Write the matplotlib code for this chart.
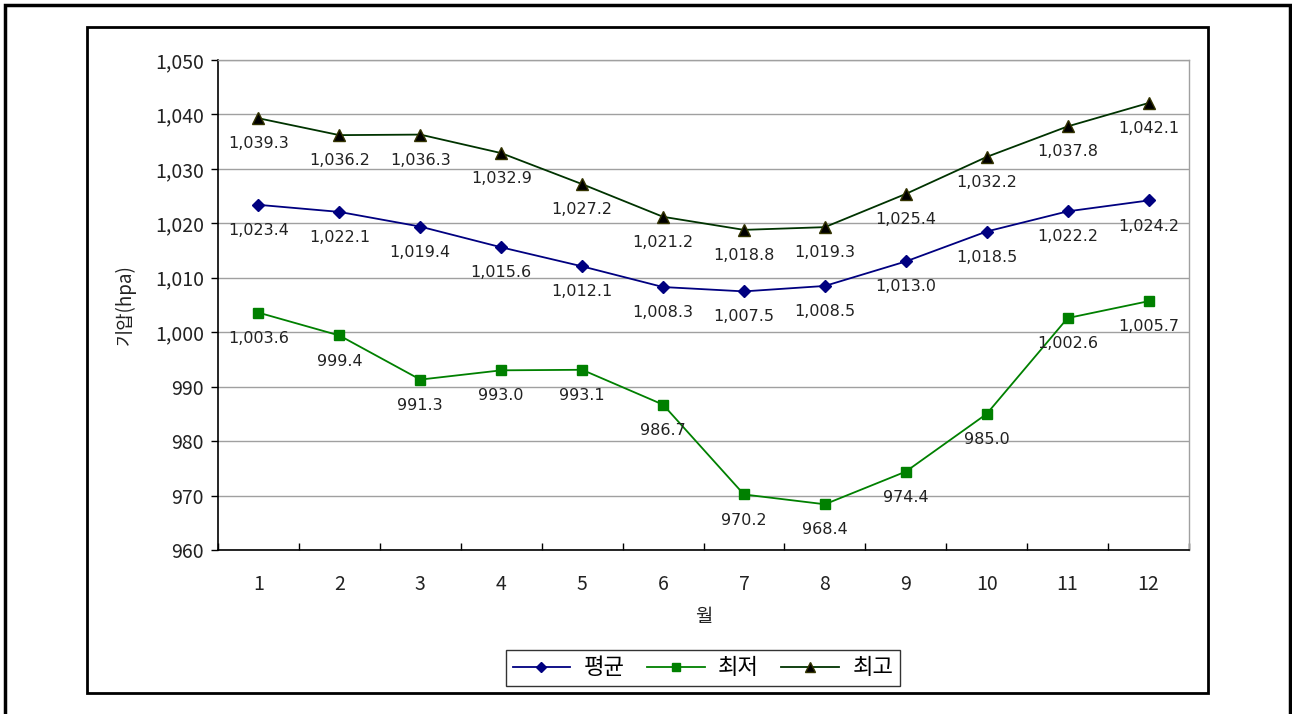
import matplotlib.pyplot as plt
from matplotlib.patches import Rectangle
from matplotlib.ticker import FuncFormatter, MultipleLocator
import numpy as np

plt.rcParams['font.family'] = ['Noto Sans CJK KR', 'DejaVu Sans']

# data
months = [1, 2, 3, 4, 5, 6, 7, 8, 9, 10, 11, 12]
avg_p = [1023.4, 1022.1, 1019.4, 1015.6, 1012.1, 1008.3, 1007.5, 1008.5, 1013.0, 1018.5, 1022.2, 1024.2]
min_p = [1003.6, 999.4, 991.3, 993.0, 993.1, 986.7, 970.2, 968.4, 974.4, 985.0, 1002.6, 1005.7]
max_p = [1039.3, 1036.2, 1036.3, 1032.9, 1027.2, 1021.2, 1018.8, 1019.3, 1025.4, 1032.2, 1037.8, 1042.1]
series_names = ['평균', '최저', '최고']

W, H = 1292, 714
fig = plt.figure(figsize=(W / 100, H / 100), dpi=100)

# outer frames
fig.patches.append(Rectangle((5 / W, -0.05), 1285 / W, 1.05 - 5 / H, transform=fig.transFigure,
                             fill=False, edgecolor='black', linewidth=2.5))
fig.patches.append(Rectangle((87 / W, 1 - 693 / H), 1121 / W, 666 / H, transform=fig.transFigure,
                             fill=False, edgecolor='black', linewidth=2.0))

ax = fig.add_axes([218 / W, 1 - 550 / H, 971 / W, 490 / H])

ax.plot(months, avg_p, color='#000080', marker='D', markersize=6, linewidth=1.3, label=series_names[0])
ax.plot(months, min_p, color='#008000', marker='s', markersize=7, linewidth=1.3, label=series_names[1])
ax.plot(months, max_p, color='#003300', marker='^', markersize=8, linewidth=1.3,
        markerfacecolor='black', markeredgecolor='#333300', label=series_names[2])

# data labels
for vals in (avg_p, min_p, max_p):
    for m, v in zip(months, vals):
        ax.annotate(f'{v:,.1f}', (m, v), xytext=(0, -13), textcoords='offset points',
                    ha='center', va='top', fontsize=11.5, color='#222222', family='DejaVu Sans')

ax.set_xlim(0.5, 12.5)
ax.set_ylim(960, 1050)
ax.yaxis.set_major_locator(MultipleLocator(10))
ax.yaxis.set_major_formatter(FuncFormatter(lambda v, p: f'{v:,.0f}'))
ax.grid(axis='y', color='#a0a0a0', linewidth=1)
ax.set_axisbelow(True)

ax.set_xticks(months)
ax.set_xticks(np.arange(0.5, 13, 1), minor=True)
ax.tick_params(axis='x', which='major', length=0, pad=17, labelsize=14, labelcolor='#222222')
ax.tick_params(axis='x', which='minor', direction='in', length=5, width=1)
ax.tick_params(axis='y', direction='out', length=5, width=1, labelsize=14, labelcolor='#222222', pad=5)

for s in ('left', 'bottom'):
    ax.spines[s].set_color('black')
    ax.spines[s].set_linewidth(1.2)
for s in ('top', 'right'):
    ax.spines[s].set_color('#a0a0a0')
    ax.spines[s].set_linewidth(1)

ax.set_xlabel('월', fontsize=13.5, labelpad=8, color='#222222')
ax.set_ylabel('기압(hpa)', fontsize=13.5, labelpad=14, color='#222222')

leg = fig.legend(loc='center', bbox_to_anchor=(703 / W, 1 - 668 / H), ncol=3, fontsize=16,
                 frameon=True, fancybox=False, edgecolor='black', handlelength=2.6,
                 columnspacing=1.0, handletextpad=0.6, borderpad=0.3, markerscale=0.9)
leg.get_frame().set_linewidth(1.0)

fig.savefig('out.png', dpi=100)
